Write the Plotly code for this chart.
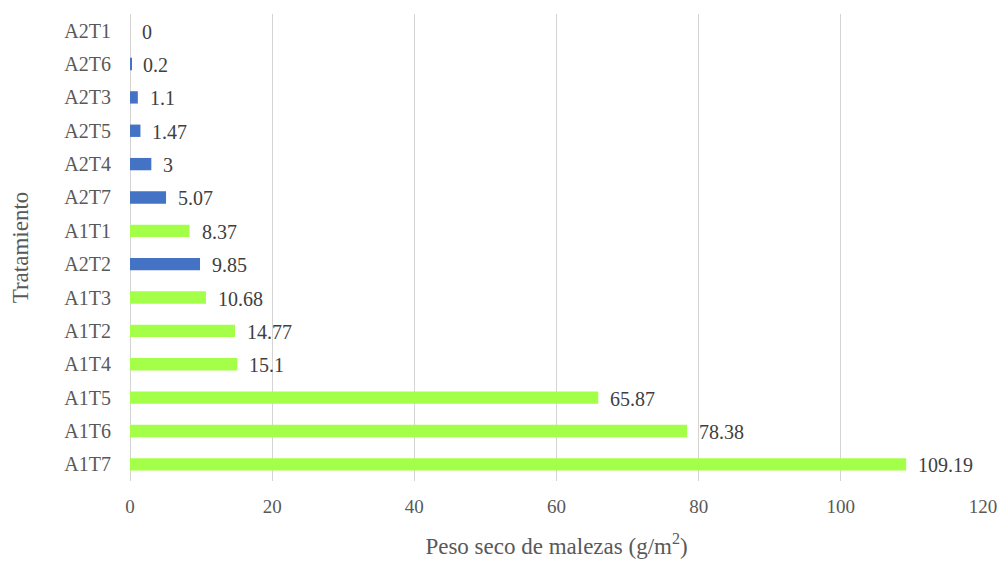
import plotly.graph_objects as go

# Tratamientos, de arriba hacia abajo
tratamientos = ["A2T1", "A2T6", "A2T3", "A2T5", "A2T4", "A2T7", "A1T1",
                "A2T2", "A1T3", "A1T2", "A1T4", "A1T5", "A1T6", "A1T7"]
peso_seco = [0, 0.2, 1.1, 1.47, 3, 5.07, 8.37,
             9.85, 10.68, 14.77, 15.1, 65.87, 78.38, 109.19]
etiquetas = ["0", "0.2", "1.1", "1.47", "3", "5.07", "8.37",
             "9.85", "10.68", "14.77", "15.1", "65.87", "78.38", "109.19"]

AZUL = "#4472C4"
VERDE = "#A3FF47"
colores = [AZUL if t.startswith("A2") else VERDE for t in tratamientos]

FUENTE = "Liberation Serif"

fig = go.Figure(go.Bar(
    x=peso_seco,
    y=tratamientos,
    orientation="h",
    marker=dict(color=colores, line=dict(width=0)),
    hoverinfo="x+y",
))

for t, v, lab in zip(tratamientos, peso_seco, etiquetas):
    fig.add_annotation(x=v, y=t, text=lab, showarrow=False,
                       xanchor="left", xshift=10, yshift=-1,
                       font=dict(family=FUENTE, size=20, color="#404040"))

fig.update_layout(
    width=1003, height=563,
    margin=dict(l=130, r=20, t=14, b=82),
    paper_bgcolor="white", plot_bgcolor="white",
    bargap=0.63,
    showlegend=False,
    font=dict(family=FUENTE, color="#595959"),
)
fig.update_xaxes(
    range=[0, 120], dtick=20, tick0=0,
    automargin=False,
    showgrid=True, gridcolor="#D4D4D4", gridwidth=1,
    zeroline=True, zerolinecolor="#D4D4D4", zerolinewidth=1,
    showline=False, ticks="",
    tickfont=dict(family=FUENTE, size=19, color="#595959"),
    ticklabelstandoff=12,
    title=dict(text="Peso seco de malezas (g/m<sup>2</sup>)",
               font=dict(family=FUENTE, size=23, color="#595959"),
               standoff=21),
)
fig.update_yaxes(
    categoryorder="array", categoryarray=tratamientos,
    autorange="reversed",
    automargin=False,
    showgrid=False, showline=False, ticks="",
    tickfont=dict(family=FUENTE, size=20, color="#595959"),
    ticklabelstandoff=18,
    title=dict(text="Tratamiento",
               font=dict(family=FUENTE, size=23, color="#595959"),
               standoff=29),
)

fig.write_html("out.html")
